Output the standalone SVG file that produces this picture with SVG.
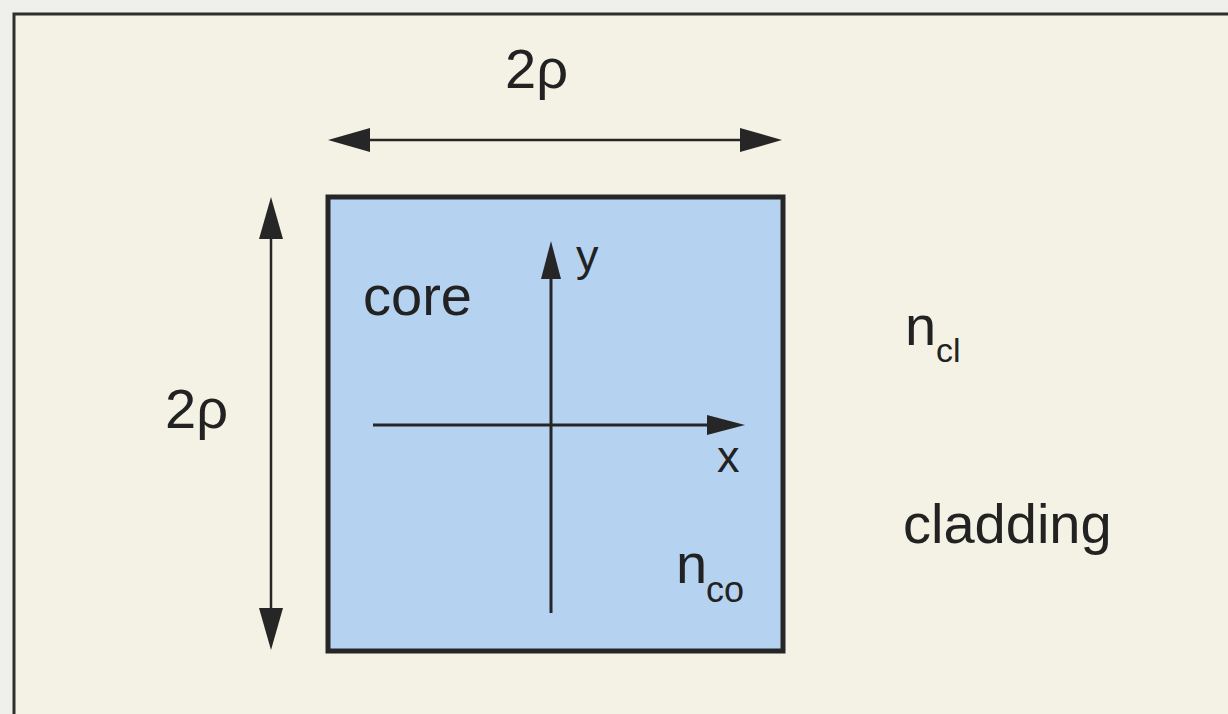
<svg xmlns="http://www.w3.org/2000/svg" width="1228" height="714" viewBox="0 0 1228 714">
<style>
.t{font-family:"Liberation Sans",Arial,sans-serif;fill:#222}
.big{font-size:56px}
.ax{font-size:45px}
.sub{font-size:36px}
.dim{stroke:#262626;stroke-width:2.5;fill:none}
.axis{stroke:#262626;stroke-width:3;fill:none}
</style>
<defs>
<marker id="hd" viewBox="0 0 42 24" refX="22" refY="12" markerWidth="42" markerHeight="24" orient="auto-start-reverse" markerUnits="userSpaceOnUse"><path d="M0,0 L42,12 L0,24 z" fill="#262626"/></marker>
<marker id="ha" viewBox="0 0 38 20" refX="18" refY="10" markerWidth="38" markerHeight="20" orient="auto-start-reverse" markerUnits="userSpaceOnUse"><path d="M0,0 L38,10 L0,20 z" fill="#262626"/></marker>
</defs>
<rect x="0" y="0" width="1228" height="714" fill="#efefec"/>
<rect id="frame" x="14" y="14" width="1240" height="740" fill="#f4f2e4" stroke="#2e2e2e" stroke-width="3"/>
<g id="core">
<rect x="328" y="197" width="455" height="454" fill="#b5d3f1" stroke="#262626" stroke-width="5"/>
<text class="t big" x="363" y="315">core</text>
<text class="t big" x="676" y="583">n</text>
<text class="t sub" x="706" y="602">co</text>
</g>
<g id="cladding">
<text class="t big" x="905" y="345">n</text>
<text class="t sub" x="936" y="362" style="font-size:34px">cl</text>
<text class="t big" x="903" y="543">cladding</text>
</g>
<g id="connectors">
<line class="dim" x1="348" y1="140" x2="762" y2="140" marker-start="url(#hd)" marker-end="url(#hd)"/>
<line class="dim" x1="271" y1="217" x2="271" y2="630" marker-start="url(#hd)" marker-end="url(#hd)"/>
<line class="axis" x1="551" y1="613" x2="551" y2="261" marker-end="url(#ha)"/>
<line class="axis" x1="373" y1="425" x2="725" y2="425" marker-end="url(#ha)"/>
</g>
<g id="labels">
<text class="t big" x="505" y="88">2ρ</text>
<text class="t big" x="165" y="428">2ρ</text>
<text class="t ax" x="576" y="271">y</text>
<text class="t ax" x="717" y="472">x</text>
</g>
</svg>
